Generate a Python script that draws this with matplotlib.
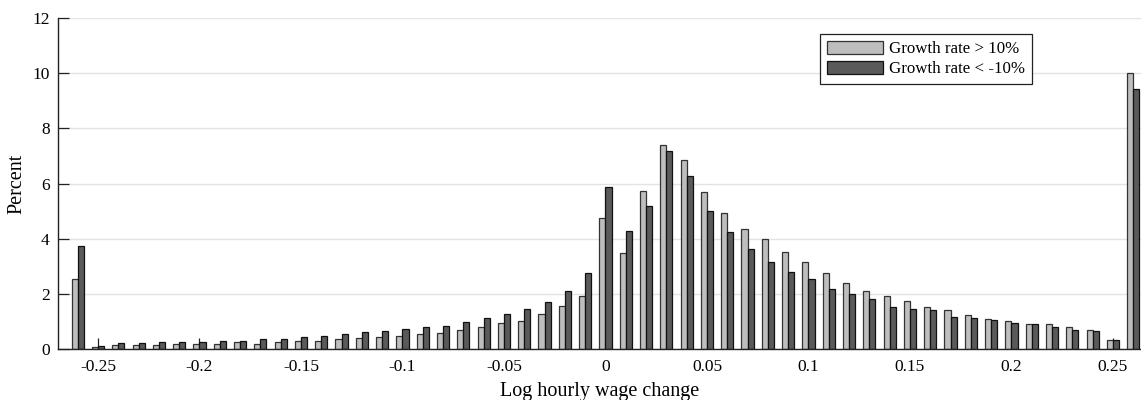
import numpy as np
import matplotlib
matplotlib.use("Agg")
import matplotlib.pyplot as plt

# histogram bins of log hourly wage change (edge bins are open-ended)
bins = np.round(np.arange(-0.26, 0.2601, 0.01), 2)

# percent of workers, firms with growth rate > 10%
growth_up = [2.52, 0.06, 0.14, 0.13, 0.13, 0.17, 0.17, 0.18, 0.24, 0.19,
             0.26, 0.30, 0.29, 0.36, 0.40, 0.43, 0.47, 0.56, 0.59, 0.69,
             0.79, 0.94, 1.01, 1.28, 1.55, 1.93,
             4.76, 3.49, 5.71, 7.38, 6.87, 5.68, 4.93, 4.34, 3.97, 3.53,
             3.14, 2.74, 2.38, 2.09, 1.92, 1.73, 1.51, 1.40, 1.24, 1.08,
             1.00, 0.89, 0.89, 0.79, 0.68, 0.33, 10.0]

# percent of workers, firms with growth rate < -10%
growth_down = [3.74, 0.10, 0.21, 0.21, 0.24, 0.24, 0.27, 0.29, 0.29, 0.36,
               0.36, 0.43, 0.46, 0.53, 0.63, 0.65, 0.72, 0.78, 0.82, 0.98,
               1.11, 1.28, 1.44, 1.70, 2.09, 2.74,
               5.89, 4.28, 5.18, 7.17, 6.27, 5.02, 4.25, 3.63, 3.16, 2.78,
               2.53, 2.18, 1.98, 1.80, 1.53, 1.44, 1.40, 1.15, 1.11, 1.05,
               0.95, 0.89, 0.80, 0.69, 0.65, 0.31, 9.42]

labels = ["Growth rate > 10%", "Growth rate < -10%"]
xticks = [-0.25, -0.2, -0.15, -0.1, -0.05, 0, 0.05, 0.1, 0.15, 0.2, 0.25]
xticklabels = ["-0.25", "-0.2", "-0.15", "-0.1", "-0.05", "0",
               "0.05", "0.1", "0.15", "0.2", "0.25"]
yticks = [0, 2, 4, 6, 8, 10, 12]

plt.rcParams['font.family'] = ['Liberation Serif', 'DejaVu Serif']

fig = plt.figure(figsize=(11.41, 4.0), dpi=100)
ax = fig.add_axes([58 / 1141, 51 / 400, 1083 / 1141, 331 / 400])

w = 0.003
ax.bar(bins - w / 2, growth_up, width=w, color='#bebebe',
       edgecolor='#333333', linewidth=0.9, label=labels[0])
ax.bar(bins + w / 2, growth_down, width=w, color='#5a5a5a',
       edgecolor='#111111', linewidth=0.9, label=labels[1])

ax.set_xlim(-0.2697, 0.2638)
ax.set_ylim(0, 12)
ax.set_xticks(xticks)
ax.set_xticklabels(xticklabels)
ax.set_yticks(yticks)

ax.set_axisbelow(True)
ax.yaxis.grid(True, color='#e3e3e3', linewidth=1.0)
ax.tick_params(direction='in', length=8, width=0.9, labelsize=12.5, color='#222222')
ax.tick_params(axis='x', pad=7)
ax.tick_params(axis='y', pad=6)

ax.spines['top'].set_visible(False)
ax.spines['right'].set_visible(False)
for s in ['left', 'bottom']:
    ax.spines[s].set_linewidth(1.0)
    ax.spines[s].set_color('#222222')

ax.set_xlabel("Log hourly wage change", fontsize=14.5, labelpad=5)
ax.set_ylabel("Percent", fontsize=14.5, labelpad=4)

leg = ax.legend(loc='upper left', bbox_to_anchor=(0.7036, 0.9517),
                borderaxespad=0, fontsize=12.2, handlelength=3.3,
                handleheight=0.85, handletextpad=0.4, labelspacing=0.2,
                borderpad=0.4, fancybox=False, framealpha=1)
leg.get_frame().set_edgecolor('#222222')
leg.get_frame().set_linewidth(0.9)

fig.savefig("out.png", dpi=100)
